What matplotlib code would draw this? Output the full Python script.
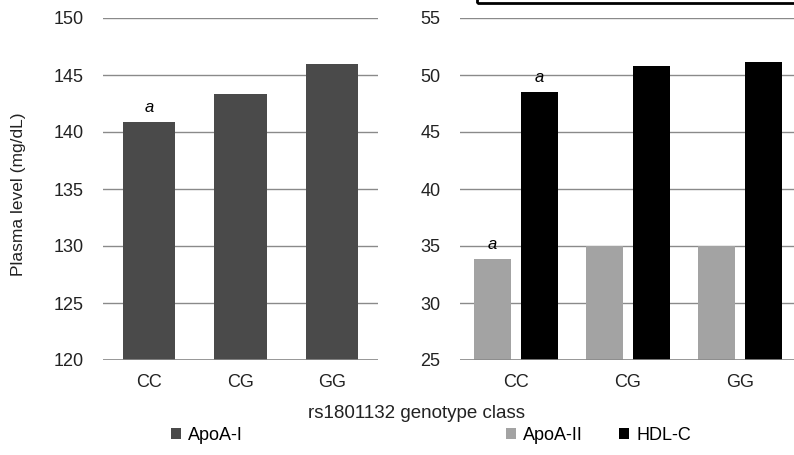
import matplotlib.pyplot as plt
from matplotlib.patches import Rectangle
import numpy as np

plt.rcParams['font.family'] = ['Liberation Sans', 'DejaVu Sans']

genotypes = ['CC', 'CG', 'GG']
apoa1 = [140.9, 143.35, 146.0]
apoa2 = [33.85, 34.97, 34.97]
hdlc = [48.55, 50.8, 51.1]

W, H = 794, 455
fig = plt.figure(figsize=(W / 100, H / 100), dpi=100)

ax1 = fig.add_axes([103 / W, 95 / H, 275 / W, 342 / H])
ax2 = fig.add_axes([460 / W, 95 / H, 336 / W, 342 / H])

x = np.arange(len(genotypes))
grid_col = '#8a8a8a'
txt_col = '#222222'

# left panel: ApoA-I
ax1.bar(x, apoa1, width=0.57, color='#4a4a4a', label='ApoA-I', zorder=3)
ax1.set_ylim(120, 150)
ax1.set_yticks(range(120, 151, 5))
ax1.text(x[0], apoa1[0] + 0.6, 'a', ha='center', va='bottom', style='italic', fontsize=12)

# right panel: ApoA-II and HDL-C
bw = 0.33
ax2.bar(x - 0.21, apoa2, width=bw, color='#a3a3a3', label='ApoA-II', zorder=3)
ax2.bar(x + 0.21, hdlc, width=bw, color='#000000', label='HDL-C', zorder=3)
ax2.set_ylim(25, 55)
ax2.set_yticks(range(25, 56, 5))
ax2.text(x[0] - 0.21, apoa2[0] + 0.6, 'a', ha='center', va='bottom', style='italic', fontsize=12)
ax2.text(x[0] + 0.21, hdlc[0] + 0.6, 'a', ha='center', va='bottom', style='italic', fontsize=12)

for ax in (ax1, ax2):
    ax.set_xlim(-0.5, 2.5)
    ax.set_xticks(x)
    ax.set_xticklabels(genotypes)
    for s in ax.spines.values():
        s.set_visible(False)
    ax.yaxis.grid(True, color=grid_col, linewidth=1, zorder=0)
    ax.set_axisbelow(True)
    ax.tick_params(length=0, labelsize=13, colors=txt_col)
    ax.tick_params(axis='y', pad=14)
    ax.tick_params(axis='x', pad=10)
    ax.axhline(ax.get_ylim()[0], color=grid_col, linewidth=1.2, zorder=4)

fig.text(19 / W, 1 - 194 / H, 'Plasma level (mg/dL)', rotation=90, ha='center', va='center',
         fontsize=12.5, color=txt_col)
fig.text(416 / W, 1 - 413 / H, 'rs1801132 genotype class', ha='center', va='center',
         fontsize=13.5, color=txt_col)

fig.legend(*ax1.get_legend_handles_labels(), loc='center left', bbox_to_anchor=(171 / W, 1 - 435 / H),
           frameon=False, handlelength=0.55, handleheight=0.55, handletextpad=0.4,
           borderpad=0, borderaxespad=0, fontsize=13)
fig.legend(*ax2.get_legend_handles_labels(), loc='center left', bbox_to_anchor=(506 / W, 1 - 435 / H),
           frameon=False, ncol=2, handlelength=0.55, handleheight=0.55, handletextpad=0.4,
           columnspacing=2.0, borderpad=0, borderaxespad=0, fontsize=13)

# cropped box at top right
fig.patches.append(Rectangle((477 / W, 1 - 3 / H), 400 / W, 20 / H, transform=fig.transFigure,
                             fill=False, edgecolor='black', linewidth=2))

fig.savefig('out.png', dpi=100)
